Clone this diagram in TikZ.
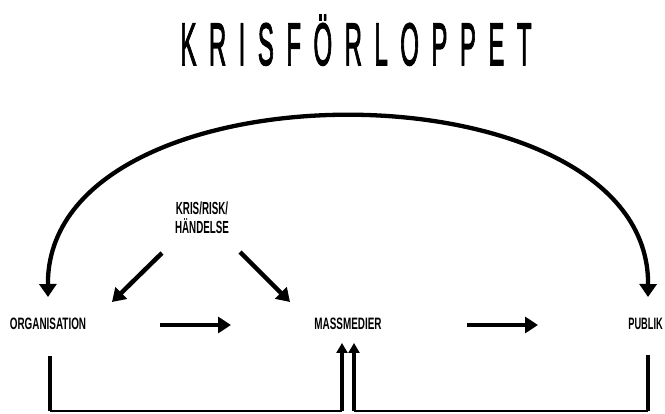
\documentclass[tikz,border=0pt]{standalone}
\usepackage{fontspec}
\usepackage{graphicx}
\setmainfont{Liberation Sans}
\newfontfamily\titlefont[LetterSpace=52, FakeBold=2.5]{Liberation Sans}
\usetikzlibrary{arrows.meta}
\newcommand{\nar}[2][0.6]{\scalebox{#1}[1]{#2}}
\tikzset{
  lbl/.style={inner sep=0pt, anchor=base, font=\fontsize{16.5}{17}\selectfont\bfseries},
  bigarrow/.style={line width=4.5pt, -{Triangle[width=16pt,length=13pt]}},
  arcarrow/.style={line width=4.3pt, {Triangle[width=17pt,length=13pt]}-{Triangle[width=17pt,length=13pt]}},
  uparrow/.style={line width=3.5pt, -{Triangle[width=11pt,length=10pt]}},
  stem/.style={line width=4pt},
  baseline/.style={line width=2pt},
}
\begin{document}
\begin{tikzpicture}[x=1pt,y=-1pt]
\useasboundingbox (0,0) rectangle (665,414);
% title
\node[inner sep=0pt, anchor=base] (title) at (356,65) {\titlefont\fontsize{60}{62}\selectfont\nar[0.4]{KRISFÖRLOPPET}};
% labels
\node[lbl] (org) at (48,330) {\nar{ORGANISATION}};
\node[lbl] (mass) at (348,330) {\nar{MASSMEDIER}};
\node[lbl, anchor=base east] (pub) at (663,330) {\nar[0.56]{PUBLIK}};
\node[lbl, align=center, font=\fontsize{17.5}{19}\selectfont\bfseries] (kris) at (202,234) {\nar[0.56]{KRIS/RISK/}\\\nar[0.56]{HÄNDELSE}};
% coordinates
\coordinate (orgTip) at (48,297);
\coordinate (pubTip) at (648,297);
\coordinate (k1s) at (162,253);
\coordinate (k1e) at (112,302);
\coordinate (k2s) at (240,252);
\coordinate (k2e) at (290,302);
\coordinate (a1s) at (160,325);
\coordinate (a1e) at (231,325);
\coordinate (a2s) at (467,325);
\coordinate (a2e) at (538,325);
\coordinate (orgTop) at (50,356);
\coordinate (orgBot) at (50,411);
\coordinate (pubTop) at (648,355);
\coordinate (pubBot) at (648,411);
\coordinate (u1b) at (342,411);
\coordinate (u1t) at (342,343);
\coordinate (u2b) at (354,411);
\coordinate (u2t) at (354,343);
% arc
\draw[arcarrow] (orgTip) .. controls (46,58) and (650,58) .. (pubTip);
% arrows
\draw[bigarrow] (k1s) -- (k1e);
\draw[bigarrow] (k2s) -- (k2e);
\draw[bigarrow] (a1s) -- (a1e);
\draw[bigarrow] (a2s) -- (a2e);
% bottom loop
\draw[stem] (orgTop) -- (orgBot);
\draw[stem] (pubTop) -- (pubBot);
\draw[baseline] (orgBot) -- (u1b);
\draw[baseline] (u2b) -- (pubBot);
\draw[uparrow] (u1b) -- (u1t);
\draw[uparrow] (u2b) -- (u2t);
\end{tikzpicture}
\end{document}
